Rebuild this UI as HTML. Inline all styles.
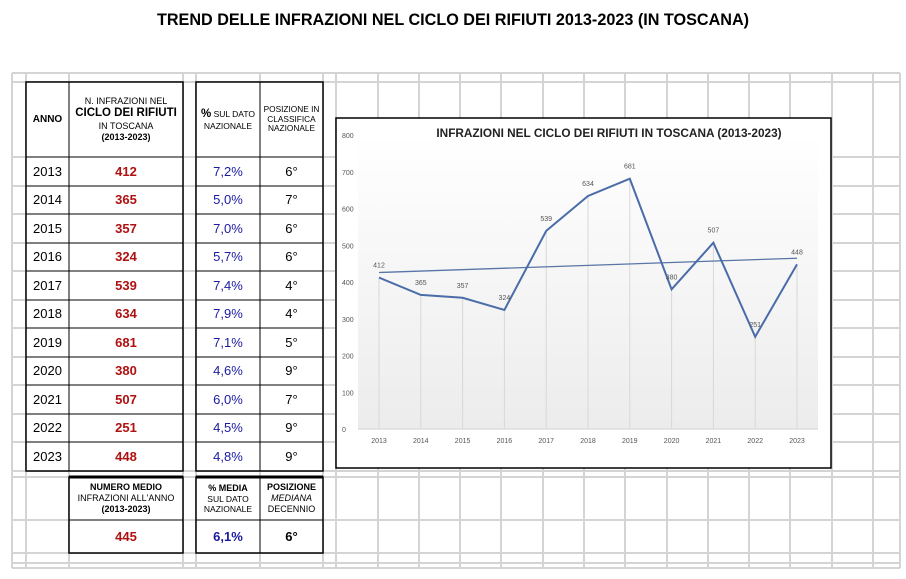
<!DOCTYPE html>
<html><head><meta charset="utf-8"><style>
body{margin:0;background:#fff;font-family:"Liberation Sans",sans-serif;}
#wrap{position:relative;width:906px;height:579px;overflow:hidden;}
.t{position:absolute;text-align:center;display:flex;align-items:center;justify-content:center;flex-direction:column;line-height:1.2;}
</style></head><body>
<div id="wrap">
<div class="t" style="left:0;width:906px;top:8px;height:26px;font-weight:bold;font-size:16.2px;">TREND DELLE INFRAZIONI NEL CICLO DEI RIFIUTI 2013-2023 (IN TOSCANA)</div>
<svg id="grid" width="906" height="579" style="position:absolute;left:0;top:0"></svg>
<div id="tbl"></div>
<svg id="chart" width="906" height="579" style="position:absolute;left:0;top:0"></svg>
</div>
<script>
const years=["2013","2014","2015","2016","2017","2018","2019","2020","2021","2022","2023"];
const counts=[412,365,357,324,539,634,681,380,507,251,448];
const pcts=["7,2%","5,0%","7,0%","5,7%","7,4%","7,9%","7,1%","4,6%","6,0%","4,5%","4,8%"];
const ranks=["6°","7°","6°","6°","4°","4°","5°","9°","7°","9°","9°"];
const yTicks=[0,100,200,300,400,500,600,700,800];
const NS="http://www.w3.org/2000/svg";
function mk(p,tag,a){const e=document.createElementNS(NS,tag);for(const k in a)e.setAttribute(k,a[k]);p.appendChild(e);return e;}
const g=document.getElementById('grid');
const cols=[12,26,69,183,196,260,323,336,378,419,460,501,543,584,625,667,708,749,790,832,873,900];
const rows=[73,82,157,186,214,243,271,300,328,357,385,414,442,471,477,520,553,563,568];
cols.forEach(x=>{const l=mk(g,'line',{x1:x,y1:73,x2:x,y2:568,stroke:'#d4d4d4','stroke-width':2});});
rows.forEach(y=>{const l=mk(g,'line',{x1:12,y1:y,x2:900,y2:y,stroke:'#d4d4d4','stroke-width':2});});
function box(x1,y1,x2,y2){const r=mk(g,'rect',{x:x1,y:y1,width:x2-x1,height:y2-y1,fill:'#fff',stroke:'#000','stroke-width':1.5});}
box(26,82,183,471);box(196,82,323,471);box(69,477,183,553);box(196,477,323,553);
function hl(x1,x2,y){const l=mk(g,'line',{x1:x1,y1:y,x2:x2,y2:y,stroke:'#000','stroke-width':1});}
function vl(x,y1,y2){const l=mk(g,'line',{x1:x,y1:y1,x2:x,y2:y2,stroke:'#000','stroke-width':1});}
for(let i=2;i<14;i++){hl(26,183,rows[i]);hl(196,323,rows[i]);}
hl(69,183,520);hl(196,323,520);
mk(g,'line',{x1:69,y1:477,x2:183,y2:477,stroke:'#000','stroke-width':3});
mk(g,'line',{x1:196,y1:477,x2:323,y2:477,stroke:'#000','stroke-width':3});
vl(69,82,471);vl(260,82,471);vl(260,477,553);
const tbl=document.getElementById('tbl');
function txt(x,y,w,h,html,style,name){const d=document.createElement('div');d.className='t';d.style.cssText=`left:${x}px;top:${y}px;width:${w}px;height:${h}px;`+style;d.innerHTML=html;tbl.appendChild(d);}
txt(26,82,43,75,'ANNO','font-weight:bold;font-size:10px;','header-anno');
txt(69,82,114,75,'<span style="font-size:9px">N. INFRAZIONI NEL</span><b style="font-size:11.5px">CICLO DEI RIFIUTI</b><span style="font-size:9px">IN TOSCANA</span><b style="font-size:9px">(2013-2023)</b>','','header-infrazioni');
txt(196,82,64,75,'<span style="font-size:8.5px;white-space:nowrap"><b style="font-size:11.5px">%</b> SUL DATO<br>NAZIONALE</span>','','header-percent');
txt(260,82,63,75,'<span style="font-size:8.3px;white-space:nowrap">POSIZIONE IN<br>CLASSIFICA<br>NAZIONALE</span>','','header-posizione');
years.forEach((y,i)=>{const top=rows[i+2],h=rows[i+3]-top;
txt(26,top,43,h,y,'font-size:13px;','year-cell');
txt(69,top,114,h,counts[i],'font-size:13px;font-weight:bold;color:#b01010;','count-cell');
txt(196,top,64,h,pcts[i],'font-size:13px;color:#1a1aa0;','percent-cell');
txt(260,top,63,h,ranks[i],'font-size:13px;','rank-cell');});
txt(69,477,114,43,'<b style="font-size:9px">NUMERO MEDIO</b><span style="font-size:9px;white-space:nowrap">INFRAZIONI ALL\'ANNO</span><b style="font-size:9px">(2013-2023)</b>','','header-media');
txt(196,477,64,43,'<b style="font-size:9px">% MEDIA</b><span style="font-size:8.5px">SUL DATO<br>NAZIONALE</span>','','header-percent-media');
txt(260,477,63,43,'<b style="font-size:9px">POSIZIONE</b><i style="font-size:9px">MEDIANA</i><span style="font-size:9px">DECENNIO</span>','','header-posizione-mediana');
txt(69,520,114,33,'445','font-size:13px;font-weight:bold;color:#b01010;','avg-count');
txt(196,520,64,33,'6,1%','font-size:13px;font-weight:bold;color:#1a1aa0;','avg-percent');
txt(260,520,63,33,'6°','font-size:13px;font-weight:bold;','median-rank');
const c=document.getElementById('chart');
const bx=mk(c,'rect',{x:336,y:118,width:495,height:350,fill:'#fff',stroke:'#000','stroke-width':1.5});

const defs=mk(c,'defs',{});const lg=mk(defs,'linearGradient',{id:'bg',x1:0,y1:0,x2:0,y2:1});
mk(lg,'stop',{offset:'0','stop-color':'#ffffff'});mk(lg,'stop',{offset:'1','stop-color':'#ececec'});
const pl=358,pr=818,y0=429,per=0.3675;
const X=i=>379+i*(797-379)/(years.length-1);
const Y=v=>y0-v*per;
const pa=mk(c,'rect',{x:pl,y:Y(800),width:pr-pl,height:y0-Y(800),fill:'url(#bg)'});

const tt=mk(c,'text',{x:609,y:137,'text-anchor':'middle','font-size':11.8,'font-weight':'bold',fill:'#222'});tt.textContent='INFRAZIONI NEL CICLO DEI RIFIUTI IN TOSCANA (2013-2023)';

yTicks.forEach(v=>{const t=mk(c,'text',{x:342,y:Y(v)+3,'font-size':7,fill:'#555'});t.textContent=v;
});
mk(c,'line',{x1:pl,y1:y0,x2:pr,y2:y0,stroke:'#d0d0d0'});
years.forEach((y,i)=>{const l=mk(c,'line',{x1:X(i),y1:Y(counts[i]),x2:X(i),y2:y0,stroke:'#d8d8d8'});

const t=mk(c,'text',{x:X(i),y:443,'text-anchor':'middle','font-size':7,fill:'#555'});t.textContent=y;
});
const n=counts.length;let sx=0,sy=0,sxy=0,sxx=0;counts.forEach((v,i)=>{sx+=i;sy+=v;sxy+=i*v;sxx+=i*i;});
const b=(n*sxy-sx*sy)/(n*sxx-sx*sx),a=(sy-b*sx)/n;
const tl=mk(c,'line',{x1:X(0),y1:Y(a),x2:X(n-1),y2:Y(a+b*(n-1)),stroke:'#5875a6','stroke-width':1.3});

const ln=mk(c,'polyline',{points:counts.map((v,i)=>X(i)+','+Y(v)).join(' '),fill:'none',stroke:'#4a6ca8','stroke-width':2});

counts.forEach((v,i)=>{const t=mk(c,'text',{x:X(i),y:Y(v)-10,'text-anchor':'middle','font-size':7,fill:'#555'});t.textContent=v;
});
</script>
</body></html>
